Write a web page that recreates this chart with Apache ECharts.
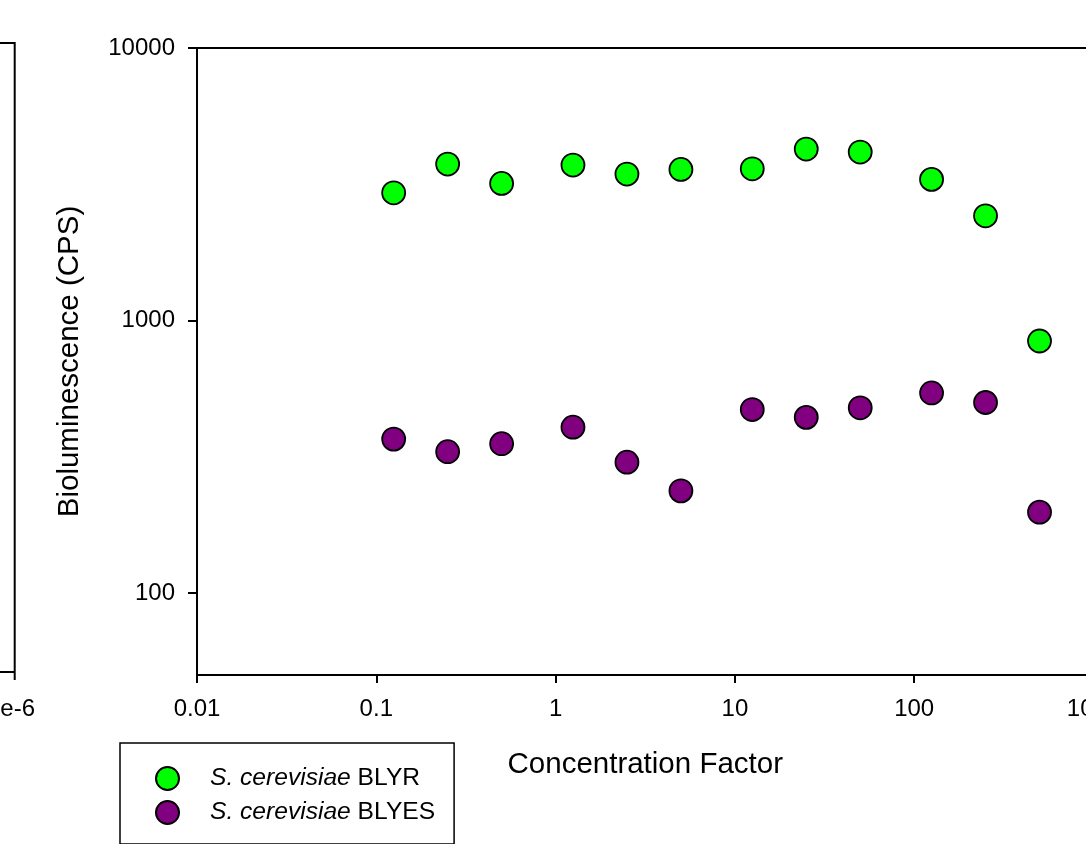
<!DOCTYPE html>
<html>
<head>
<meta charset="utf-8">
<script src="https://cdn.jsdelivr.net/npm/echarts@6/dist/echarts.min.js"></script>
<style>
  html, body { margin: 0; padding: 0; background: #fff; }
  #chart { width: 1086px; height: 844px; }
</style>
</head>
<body>
<div id="chart"></div>
<script>
var concentration = [0.125, 0.25, 0.5, 1.25, 2.5, 5, 12.5, 25, 50, 125, 250, 500];
var blyr = [2942, 3750, 3185, 3718, 3446, 3585, 3603, 4257, 4150, 3295, 2422, 841];
var blyes = [367, 330, 353, 406, 302, 237, 471, 441, 478, 542, 500, 198];
var yTicks = [100, 1000, 10000];
var seriesNames = ['BLYR', 'BLYES'];

var font = "'Liberation Sans', Arial, sans-serif";

function pairs(xs, ys) {
  return xs.map(function (x, i) { return [x, ys[i]]; });
}

var myChart = echarts.init(document.getElementById('chart'));

var option = {
  backgroundColor: '#fff',
  animation: false,
  textStyle: { fontFamily: font, color: '#000' },
  grid: {
    left: 197, top: 48, width: 896.5, bottom: 169,
    show: true, borderColor: '#000', borderWidth: 2,
    containLabel: false,
    outerBoundsMode: 'none'
  },
  legend: {
    orient: 'vertical',
    left: 120, top: 743,
    padding: [23, 19, 19, 35],
    borderColor: '#000', borderWidth: 1.5,
    itemWidth: 23, itemHeight: 23, itemGap: 9,
    icon: 'circle',
    data: seriesNames,
    formatter: function (name) {
      return '{sp|}{i|S. cerevisiae} ' + name;
    },
    textStyle: {
      fontFamily: font, fontSize: 24.6, color: '#000',
      rich: {
        sp: { width: 26 },
        i: { fontFamily: font, fontSize: 24.6, fontStyle: 'italic', color: '#000' }
      }
    }
  },
  xAxis: {
    type: 'log',
    logBase: 10,
    min: 0.01,
    max: 1000,
    name: 'Concentration Factor',
    nameLocation: 'middle',
    nameGap: 75,
    nameTextStyle: { fontFamily: font, fontSize: 29.5, color: '#000' },
    axisLine: { show: true, lineStyle: { color: '#000', width: 2 } },
    axisTick: { show: true, inside: false, length: 8, lineStyle: { color: '#000', width: 2 } },
    minorTick: { show: false },
    splitLine: { show: false },
    axisLabel: {
      fontFamily: font, fontSize: 24, color: '#000', margin: 22,
      formatter: function (v) { return String(+v.toPrecision(6)); }
    }
  },
  yAxis: {
    type: 'log',
    logBase: 10,
    min: 50,
    max: 10000,
    name: 'Bioluminescence (CPS)',
    nameLocation: 'middle',
    nameRotate: 90,
    nameGap: 112,
    nameTextStyle: { fontFamily: font, fontSize: 29.5, color: '#000' },
    axisLine: { show: true, lineStyle: { color: '#000', width: 2 } },
    axisTick: {
      show: true, inside: false, length: 9,
      lineStyle: { color: '#000', width: 2 },
      customValues: yTicks
    },
    splitLine: { show: false },
    axisLabel: {
      fontFamily: font, fontSize: 24, color: '#000', margin: 22,
      customValues: yTicks,
      formatter: function (v) { return String(Math.round(v)); }
    }
  },
  graphic: [
    {
      type: 'polyline',
      shape: { points: [[0, 43], [14.7, 43], [14.7, 680]] },
      style: { stroke: '#000', lineWidth: 2, fill: null }
    },
    {
      type: 'line',
      shape: { x1: 0, y1: 672, x2: 14.7, y2: 672 },
      style: { stroke: '#000', lineWidth: 2 }
    },
    {
      type: 'text',
      x: 11, y: 697,
      style: { text: '1e-6', font: '24px ' + font, fill: '#000', align: 'center', verticalAlign: 'top' }
    }
  ],
  series: [
    {
      name: seriesNames[0],
      type: 'scatter',
      symbol: 'circle',
      symbolSize: 23,
      itemStyle: { color: '#00ff00', borderColor: '#000', borderWidth: 1.8, opacity: 1 },
      data: pairs(concentration, blyr)
    },
    {
      name: seriesNames[1],
      type: 'scatter',
      symbol: 'circle',
      symbolSize: 23,
      itemStyle: { color: '#800080', borderColor: '#000', borderWidth: 1.8, opacity: 1 },
      data: pairs(concentration, blyes)
    }
  ]
};

myChart.setOption(option);
</script>
</body>
</html>
